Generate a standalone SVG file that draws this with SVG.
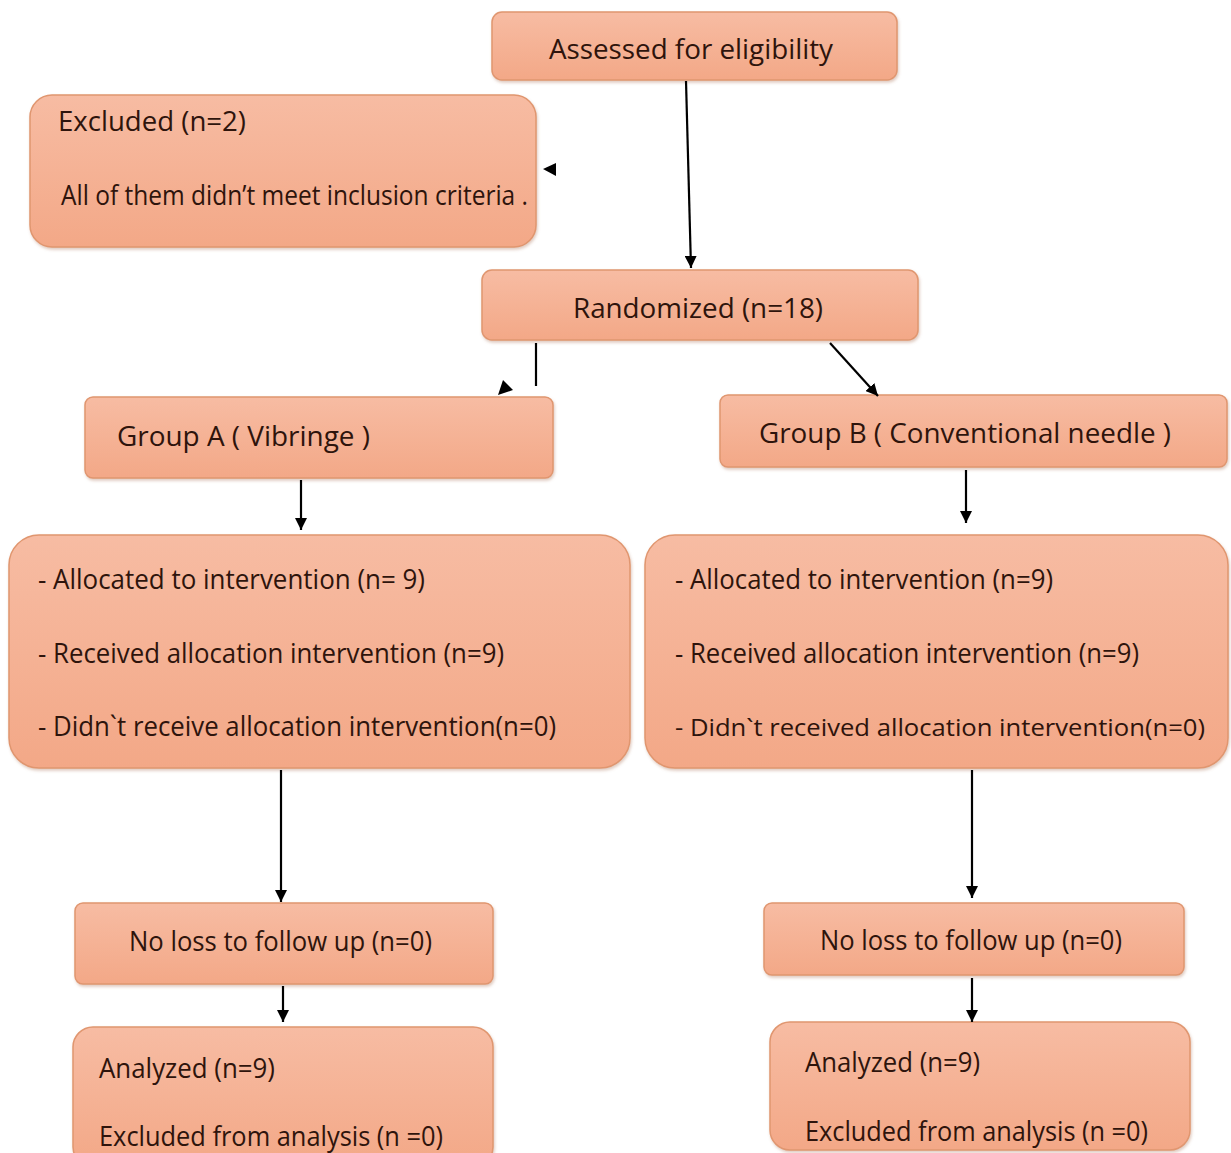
<svg xmlns="http://www.w3.org/2000/svg" width="1231" height="1153" viewBox="0 0 1231 1153">
<defs>
<linearGradient id="g" x1="0" y1="0" x2="0" y2="1">
<stop offset="0" stop-color="#f7bca3"/>
<stop offset="1" stop-color="#f3a887"/>
</linearGradient>
<marker id="ah" viewBox="0 0 10 10" refX="10" refY="5" markerWidth="5.5" markerHeight="5.5" orient="auto" markerUnits="strokeWidth">
<path d="M0,0 L10,5 L0,10 z" fill="#000"/>
</marker>
<filter id="sh" x="-5%" y="-5%" width="110%" height="115%">
<feDropShadow dx="1" dy="2" stdDeviation="1.5" flood-color="#b07a60" flood-opacity="0.4"/>
</filter>
</defs>
<style>
.box{fill:url(#g);stroke:#e0966f;stroke-width:1.5;filter:url(#sh)}
.t{font-family:"Open Sans","Noto Sans",sans-serif;font-size:27px;fill:#2e140c}
.s{font-size:24.5px}
.c{stroke:#000;stroke-width:2.2;fill:none}
</style>
<rect width="1231" height="1153" fill="#fff"/>

<g id="assessed">
<rect class="box" x="492" y="12" width="405" height="68" rx="10"/>
<text class="t" x="549" y="59" textLength="284" lengthAdjust="spacingAndGlyphs">Assessed for eligibility</text>
</g>

<g id="excluded">
<rect class="box" x="30" y="95" width="506" height="152" rx="22"/>
<text class="t" x="58" y="131" textLength="188" lengthAdjust="spacingAndGlyphs">Excluded (n=2)</text>
<text class="t" x="61" y="205" textLength="467" lengthAdjust="spacingAndGlyphs">All of them didn’t meet inclusion criteria .</text>
</g>

<g id="randomized">
<rect class="box" x="482" y="270" width="436" height="70" rx="10"/>
<text class="t" x="573" y="318" textLength="250" lengthAdjust="spacingAndGlyphs">Randomized (n=18)</text>
</g>

<g id="groupA">
<rect class="box" x="85" y="397" width="468" height="81" rx="8"/>
<text class="t" x="117" y="446" textLength="253" lengthAdjust="spacingAndGlyphs">Group A ( Vibringe )</text>
</g>

<g id="groupB">
<rect class="box" x="720" y="395" width="507" height="72" rx="8"/>
<text class="t" x="759" y="443" textLength="412" lengthAdjust="spacingAndGlyphs">Group B ( Conventional needle )</text>
</g>

<g id="allocA">
<rect class="box" x="9" y="535" width="621" height="233" rx="30"/>
<text class="t" x="38" y="589" textLength="387" lengthAdjust="spacingAndGlyphs">- Allocated to intervention (n= 9)</text>
<text class="t" x="38" y="663" textLength="466" lengthAdjust="spacingAndGlyphs">- Received allocation intervention (n=9)</text>
<text class="t" x="38" y="736" textLength="518" lengthAdjust="spacingAndGlyphs">- Didn`t receive allocation intervention(n=0)</text>
</g>

<g id="allocB">
<rect class="box" x="645" y="535" width="583" height="233" rx="30"/>
<text class="t" x="675" y="589" textLength="378" lengthAdjust="spacingAndGlyphs">- Allocated to intervention (n=9)</text>
<text class="t" x="675" y="663" textLength="464" lengthAdjust="spacingAndGlyphs">- Received allocation intervention (n=9)</text>
<text class="t s" x="675" y="736" textLength="530" lengthAdjust="spacingAndGlyphs">- Didn`t received allocation intervention(n=0)</text>
</g>

<g id="lossA">
<rect class="box" x="75" y="903" width="418" height="81" rx="8"/>
<text class="t" x="129" y="951" textLength="303" lengthAdjust="spacingAndGlyphs">No loss to follow up (n=0)</text>
</g>

<g id="lossB">
<rect class="box" x="764" y="903" width="420" height="72" rx="8"/>
<text class="t" x="820" y="950" textLength="302" lengthAdjust="spacingAndGlyphs">No loss to follow up (n=0)</text>
</g>

<g id="analyzedA">
<rect class="box" x="73" y="1027" width="420" height="140" rx="20"/>
<text class="t" x="99" y="1078" textLength="176" lengthAdjust="spacingAndGlyphs">Analyzed (n=9)</text>
<text class="t" x="99" y="1146" textLength="344" lengthAdjust="spacingAndGlyphs">Excluded from analysis (n =0)</text>
</g>

<g id="analyzedB">
<rect class="box" x="770" y="1022" width="420" height="128" rx="20"/>
<text class="t" x="805" y="1072" textLength="175" lengthAdjust="spacingAndGlyphs">Analyzed (n=9)</text>
<text class="t" x="805" y="1141" textLength="343" lengthAdjust="spacingAndGlyphs">Excluded from analysis (n =0)</text>
</g>

<g id="connectors">
<line class="c" x1="686" y1="81" x2="691" y2="268" marker-end="url(#ah)"/>
<path d="M556,163 L543,169 L556,176 z" fill="#000"/>
<line class="c" x1="536" y1="343" x2="536" y2="386"/>
<path d="M498,395 L503,380 L513,390 z" fill="#000"/>
<line class="c" x1="830" y1="343" x2="878" y2="396" marker-end="url(#ah)"/>
<line class="c" x1="301" y1="480" x2="301" y2="530" marker-end="url(#ah)"/>
<line class="c" x1="966" y1="470" x2="966" y2="523" marker-end="url(#ah)"/>
<line class="c" x1="281" y1="770" x2="281" y2="902" marker-end="url(#ah)"/>
<line class="c" x1="972" y1="770" x2="972" y2="898" marker-end="url(#ah)"/>
<line class="c" x1="283" y1="986" x2="283" y2="1022" marker-end="url(#ah)"/>
<line class="c" x1="972" y1="978" x2="972" y2="1022" marker-end="url(#ah)"/>
</g>
</svg>
